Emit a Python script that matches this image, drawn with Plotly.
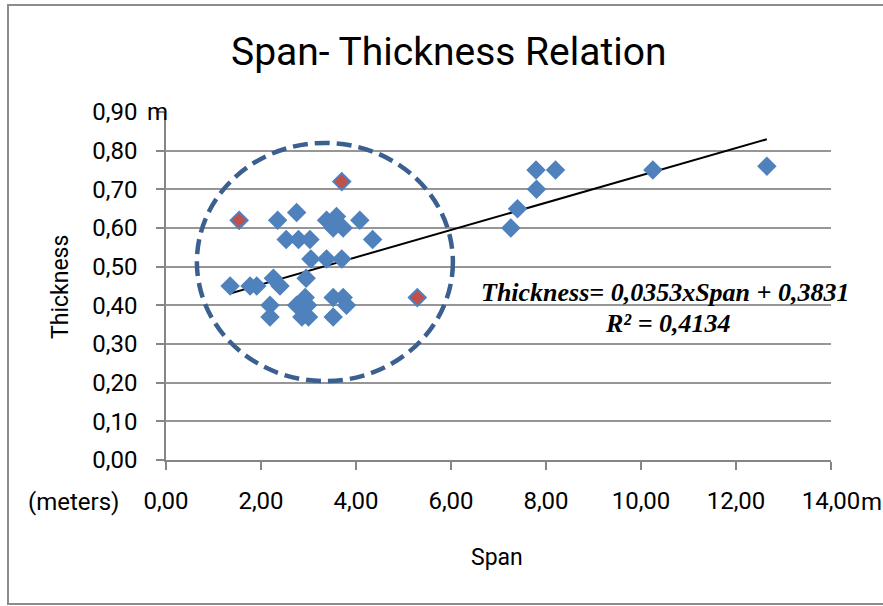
import plotly.graph_objects as go

# ---- data ----
span_blue = [1.35, 1.77, 1.91, 2.26, 2.40, 2.19, 2.19, 2.35, 2.75, 2.53, 2.79, 3.03,
             2.95, 2.75, 2.93, 2.98, 2.86, 3.00, 3.05, 3.38, 3.59, 3.52, 3.73, 3.38,
             3.70, 3.52, 3.73, 3.80, 3.52, 4.08, 4.35, 7.26, 7.40, 7.80, 7.79, 8.20,
             10.25, 12.65]
thick_blue = [0.45, 0.45, 0.45, 0.47, 0.45, 0.40, 0.37, 0.62, 0.64, 0.57, 0.57, 0.57,
              0.47, 0.40, 0.42, 0.40, 0.37, 0.37, 0.52, 0.62, 0.63, 0.60, 0.60, 0.52,
              0.52, 0.42, 0.42, 0.40, 0.37, 0.62, 0.57, 0.60, 0.65, 0.70, 0.75, 0.75,
              0.75, 0.76]
span_red = [1.54, 3.70, 5.29]
thick_red = [0.62, 0.72, 0.42]

slope = 0.0353
intercept = 0.3831
r_squared = 0.4134

x_ticks = [0, 2, 4, 6, 8, 10, 12, 14]
y_ticks = [0.0, 0.1, 0.2, 0.3, 0.4, 0.5, 0.6, 0.7, 0.8, 0.9]

FONT = "Roboto, Arial, sans-serif"
SERIF = "Liberation Serif, Times New Roman, serif"
BLUE = "#4F81BD"
RED = "#C0504D"
GRID = "#969696"
AX = "#868686"

all_span = span_blue + span_red
trend_x = [min(all_span), max(all_span)]
trend_y = [slope * v + intercept for v in trend_x]

fig = go.Figure()
fig.add_trace(go.Scatter(x=trend_x, y=trend_y, mode="lines",
                         line=dict(color="black", width=2), hoverinfo="skip"))
fig.add_trace(go.Scatter(x=span_blue, y=thick_blue, mode="markers",
                         marker=dict(symbol="diamond", size=15, color=BLUE,
                                     line=dict(width=0))))
fig.add_trace(go.Scatter(x=span_red, y=thick_red, mode="markers",
                         marker=dict(symbol="diamond", size=13, color=RED,
                                     line=dict(width=2, color=BLUE))))

W, H = 883, 606
L, R, T, B = 166, 52, 112, 146
pw, ph = W - L - R, H - T - B


def px(xp):
    return (xp - L) / pw


def py(yp):
    return (H - B - yp) / ph


eq_text = "<b><i>Thickness= {}xSpan + {}</i></b>".format(
    f"{slope:.4f}".replace(".", ","), f"{intercept:.4f}".replace(".", ","))
r2_text = "<b><i>R² = {}</i></b>".format(f"{r_squared:.4f}".replace(".", ","))

annotations = [
    dict(text="Span- Thickness Relation", x=px(449), y=py(52), font=dict(size=39)),
    dict(text="Thickness", x=px(60), y=py(287), textangle=-90, font=dict(size=23)),
    dict(text="Span", x=px(497), y=py(557), font=dict(size=23)),
    dict(text="(meters)", x=px(73), y=py(502), font=dict(size=24)),
    dict(text="m", x=px(157), y=py(112), font=dict(size=24)),
    dict(text="m", x=px(871), y=py(502), font=dict(size=24)),
    dict(text=eq_text, x=px(665), y=py(292), font=dict(size=26, family=SERIF)),
    dict(text=r2_text, x=px(667), y=py(323), font=dict(size=26, family=SERIF)),
]
for a in annotations:
    a.update(xref="paper", yref="paper", showarrow=False, xanchor="center",
             yanchor="middle")
    a["font"].setdefault("family", FONT)
    a["font"]["color"] = "black"

fig.update_layout(
    width=W, height=H, autosize=False,
    margin=dict(l=L, r=R, t=T, b=B),
    paper_bgcolor="white", plot_bgcolor="white",
    showlegend=False,
    separators=",.",
    font=dict(family=FONT, color="black"),
    annotations=annotations,
    shapes=[
        dict(type="circle", xref="x", yref="y", x0=0.65, x1=6.04, y0=0.204, y1=0.82,
             line=dict(color="#3B5F8E", width=4.5, dash="15px,7px"), layer="above"),
        dict(type="rect", xref="paper", yref="paper", x0=px(8), x1=px(892),
             y0=py(604), y1=py(5), line=dict(color="#8C8C8C", width=2), layer="below"),
    ],
    xaxis=dict(range=[0, 14], tickvals=x_ticks, tickformat=".2f", showgrid=False,
               zeroline=False, showline=True, linecolor=AX, linewidth=1.5,
               ticks="outside", ticklen=8, tickwidth=1.5, tickcolor=AX,
               tickfont=dict(size=24, family=FONT, color="black"),
               ticklabelstandoff=10, fixedrange=True),
    yaxis=dict(range=[0, 0.9], tickvals=y_ticks, tickformat=".2f", showgrid=True,
               gridcolor=GRID, gridwidth=1.5, zeroline=False, showline=True,
               linecolor=AX, linewidth=1.5, ticks="outside", ticklen=8,
               tickwidth=1.5, tickcolor=AX,
               tickfont=dict(size=24, family=FONT, color="black"),
               ticklabelstandoff=14, fixedrange=True),
)

fig.write_html("out.html", config={"displayModeBar": False},
               post_script="document.body.style.margin='0';document.body.style.overflow='hidden';")
